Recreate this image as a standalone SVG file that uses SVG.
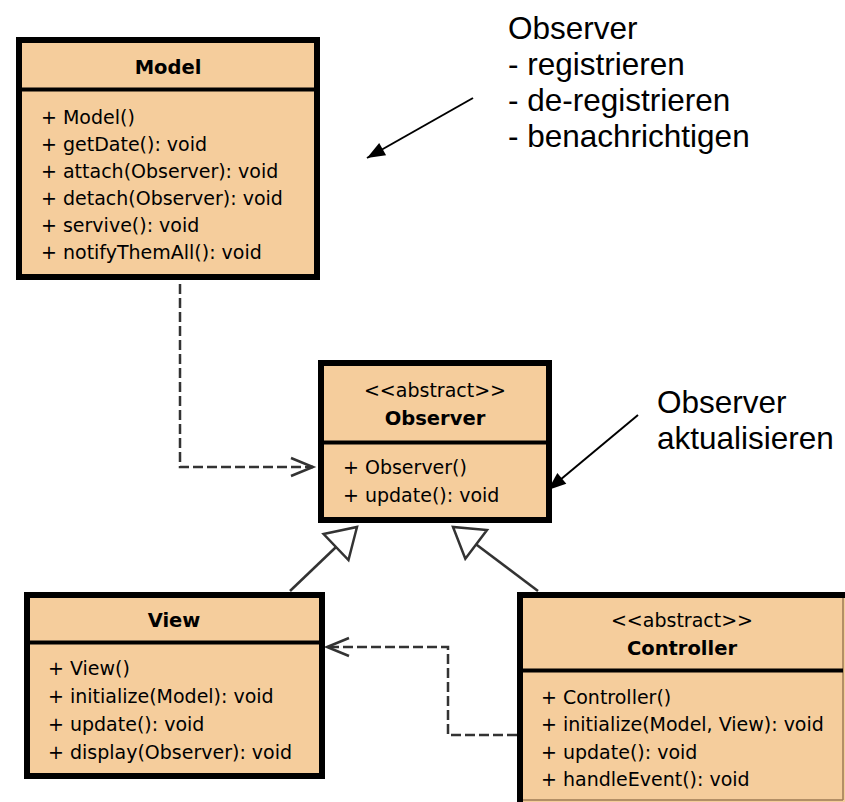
<svg xmlns="http://www.w3.org/2000/svg" width="845" height="802" viewBox="0 0 845 802">
<style>
.box{fill:#F5CD9C;stroke:#000;stroke-width:6}
.div{stroke:#000;stroke-width:4}
.t{font-family:"DejaVu Sans",Verdana,sans-serif;font-size:19px;fill:#000}
.b{font-weight:bold;text-anchor:middle;font-size:19.5px}
.c{text-anchor:middle}
.note{font-family:"Liberation Sans",Arial,sans-serif;font-size:31.5px;fill:#000}
.dash{fill:none;stroke:#333;stroke-width:2.5;stroke-dasharray:10 4}
.gen{fill:none;stroke:#333;stroke-width:2.5}
.ann{fill:none;stroke:#000;stroke-width:2}
</style>
<defs>
<marker id="open" markerUnits="userSpaceOnUse" viewBox="0 0 22 18" refX="22" refY="9" markerWidth="22" markerHeight="18" orient="auto" overflow="visible">
<path d="M0,0 L22,9 L0,18" fill="none" stroke="#333" stroke-width="2.5"/>
</marker>
<marker id="tri" markerUnits="userSpaceOnUse" viewBox="0 0 29 36" refX="29" refY="18" markerWidth="29" markerHeight="36" orient="auto" overflow="visible">
<path d="M0,0 L29,18 L0,36 Z" fill="#fff" stroke="#333" stroke-width="2.5"/>
</marker>
<marker id="fill" markerUnits="userSpaceOnUse" viewBox="0 0 18 14" refX="18" refY="7" markerWidth="18" markerHeight="14" orient="auto" overflow="visible">
<path d="M0,0 L18,7 L0,14 Z" fill="#000"/>
</marker>
</defs>
<rect width="845" height="802" fill="#fff"/>

<g id="connectors">
<polyline class="dash" points="180,284 180,467 313,467" marker-end="url(#open)"/>
<polyline class="dash" points="517,735 448,735 448,647 327,647" marker-end="url(#open)"/>
<line class="gen" x1="290" y1="591" x2="357" y2="527" marker-end="url(#tri)"/>
<line class="gen" x1="538" y1="591" x2="453" y2="527" marker-end="url(#tri)"/>
<line class="ann" x1="473" y1="98" x2="367" y2="158" marker-end="url(#fill)"/>
<line class="ann" x1="638" y1="415" x2="548" y2="490" marker-end="url(#fill)"/>
</g>

<g id="model">
<rect class="box" x="19" y="40" width="298" height="237"/>
<line class="div" x1="19" y1="89.5" x2="317" y2="89.5"/>
<text class="t b" x="168" y="74">Model</text>
<text class="t" x="41" y="124">+ Model()</text>
<text class="t" x="41" y="151">+ getDate(): void</text>
<text class="t" x="41" y="178">+ attach(Observer): void</text>
<text class="t" x="41" y="205">+ detach(Observer): void</text>
<text class="t" x="41" y="232">+ servive(): void</text>
<text class="t" x="41" y="259">+ notifyThemAll(): void</text>
</g>

<g id="observer">
<rect class="box" x="321" y="363" width="228" height="157"/>
<line class="div" x1="321" y1="442.5" x2="549" y2="442.5"/>
<text class="t c" x="435" y="397">&lt;&lt;abstract&gt;&gt;</text>
<text class="t b" x="435" y="425">Observer</text>
<text class="t" x="343" y="474">+ Observer()</text>
<text class="t" x="343" y="502">+ update(): void</text>
</g>

<g id="view">
<rect class="box" x="27" y="595" width="295" height="181"/>
<line class="div" x1="27" y1="642.5" x2="322" y2="642.5"/>
<text class="t b" x="174" y="627">View</text>
<text class="t" x="48" y="675">+ View()</text>
<text class="t" x="48" y="703">+ initialize(Model): void</text>
<text class="t" x="48" y="731">+ update(): void</text>
<text class="t" x="48" y="759">+ display(Observer): void</text>
</g>

<g id="controller">
<rect class="box" x="520" y="595" width="340" height="230"/>
<line x1="843" y1="598" x2="843" y2="800" stroke="#9C7A54" stroke-width="1.5"/>
<line x1="523" y1="800" x2="843" y2="800" stroke="#9C7A54" stroke-width="1.5"/>
<line class="div" x1="520" y1="670.5" x2="843" y2="670.5"/>
<text class="t c" x="682" y="627">&lt;&lt;abstract&gt;&gt;</text>
<text class="t b" x="682" y="655">Controller</text>
<text class="t" x="541" y="704">+ Controller()</text>
<text class="t" x="541" y="731">+ initialize(Model, View): void</text>
<text class="t" x="541" y="759">+ update(): void</text>
<text class="t" x="541" y="786">+ handleEvent(): void</text>
</g>

<g id="note-model">
<text class="note" x="508" y="39">Observer</text>
<text class="note" x="508" y="75">- registrieren</text>
<text class="note" x="508" y="111">- de-registrieren</text>
<text class="note" x="508" y="147">- benachrichtigen</text>
</g>

<g id="note-observer">
<text class="note" x="657" y="413">Observer</text>
<text class="note" x="657" y="449">aktualisieren</text>
</g>
</svg>
